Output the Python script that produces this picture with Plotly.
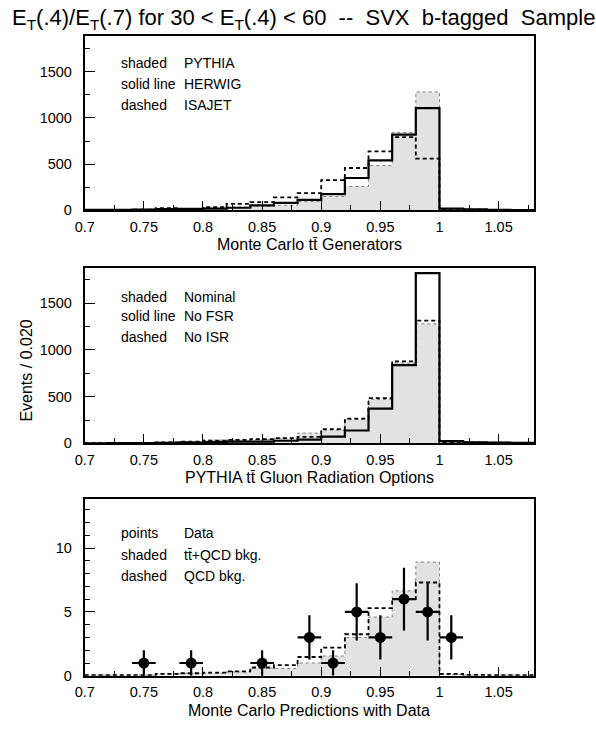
import numpy as np
import plotly.graph_objects as go

# ---- binning (0.02 wide bins) ----
bin_edges = np.round(np.arange(0.70, 1.0801, 0.02), 2)

# ---- panel 1: Monte Carlo ttbar generators ----
pythia = [5, 5, 8, 15, 15, 25, 35, 45, 55, 95, 150, 258, 485, 843, 1281, 12, 8, 6, 3]
herwig = [5, 5, 8, 14, 15, 18, 28, 53, 81, 113, 176, 350, 540, 818, 1105, 18, 10, 6, 3]
isajet = [5, 5, 8, 25, 15, 35, 70, 88, 141, 187, 328, 458, 637, 792, 560, 10, 8, 5, 3]

# ---- panel 2: PYTHIA gluon radiation options ----
nominal = [3, 5, 8, 12, 20, 35, 35, 40, 50, 110, 140, 255, 470, 860, 1280, 15, 10, 8, 5]
no_fsr = [1, 2, 3, 5, 8, 14, 18, 18, 28, 40, 72, 138, 372, 838, 1823, 25, 10, 8, 5]
no_isr = [3, 4, 6, 10, 18, 28, 38, 45, 56, 70, 152, 265, 484, 878, 1314, 15, 10, 8, 5]

# ---- panel 3: predictions with data ----
tt_qcd = [0.05, 0.05, 0.05, 0.15, 0.2, 0.2, 0.3, 0.6, 0.57, 1.0, 1.55, 3.0, 4.6, 6.65, 8.9, 0.1, 0.05, 0.05, 0.05]
qcd_bkg = [0.05, 0.05, 0.05, 0.15, 0.2, 0.25, 0.35, 0.65, 0.83, 1.47, 2.2, 3.25, 5.3, 6.0, 7.3, 0.15, 0.08, 0.05, 0.05]

data_x = [0.75, 0.79, 0.85, 0.89, 0.91, 0.93, 0.95, 0.97, 0.99, 1.01]
data_y = [1, 1, 1, 3, 1, 5, 3, 6, 5, 3]
data_err = [1.0, 1.0, 1.0, 1.73, 1.0, 2.24, 1.73, 2.45, 2.24, 1.73]
data_xerr = 0.01

# ---- axis ticks ----
x_ticks = [0.7, 0.75, 0.8, 0.85, 0.9, 0.95, 1.0, 1.05]
x_tick_labels = ["0.7", "0.75", "0.8", "0.85", "0.9", "0.95", "1", "1.05"]
y_ticks_events = [0, 500, 1000, 1500]
y_tick_labels_events = ["0", "500", "1000", "1500"]
y_ticks_data = [0, 5, 10]
y_tick_labels_data = ["0", "5", "10"]

FONT = "Liberation Sans, Arial, Helvetica, sans-serif"
W, H = 596, 729


def step_xy(values):
    """x/y arrays for an 'hv' step outline of a histogram."""
    return list(bin_edges), list(values) + [values[-1]]


def shaded(values, xa, ya):
    x, y = step_xy(values)
    return go.Scatter(x=x, y=y, xaxis=xa, yaxis=ya, mode="lines",
                      line=dict(shape="hv", color="#808080", width=1, dash="dot"),
                      fill="tozeroy", fillcolor="#e2e2e2", hoverinfo="skip",
                      showlegend=False)


def solid(values, xa, ya):
    x, y = step_xy(values)
    return go.Scatter(x=x, y=y, xaxis=xa, yaxis=ya, mode="lines",
                      line=dict(shape="hv", color="black", width=2.2),
                      showlegend=False)


def dashed(values, xa, ya):
    x, y = step_xy(values)
    return go.Scatter(x=x, y=y, xaxis=xa, yaxis=ya, mode="lines",
                      line=dict(shape="hv", color="black", width=1.8, dash="4px,3px"),
                      showlegend=False)


fig = go.Figure()
fig.add_trace(shaded(pythia, "x", "y"))
fig.add_trace(dashed(isajet, "x", "y"))
fig.add_trace(solid(herwig, "x", "y"))

fig.add_trace(shaded(nominal, "x2", "y2"))
fig.add_trace(dashed(no_isr, "x2", "y2"))
fig.add_trace(solid(no_fsr, "x2", "y2"))

fig.add_trace(shaded(tt_qcd, "x3", "y3"))
fig.add_trace(dashed(qcd_bkg, "x3", "y3"))
fig.add_trace(go.Scatter(
    x=data_x, y=data_y, xaxis="x3", yaxis="y3", mode="markers",
    marker=dict(color="black", size=11),
    error_y=dict(type="data", array=data_err, thickness=2.2, width=0, color="black"),
    error_x=dict(type="constant", value=data_xerr, thickness=2.2, width=0, color="black"),
    showlegend=False))

# frame geometry (pixels)
x_left, x_right = 76, 533
panels_px = [(36, 212.7), (270.7, 448.3), (505, 683.3)]


def ydom(top, bottom):
    return [1 - bottom / H, 1 - top / H]


xdom = [x_left / W, x_right / W]

xaxis_common = dict(
    range=[0.7, 1.08], domain=xdom, showline=True, linecolor="black", linewidth=1.8,
    mirror=True, ticks="inside", ticklen=9, tickwidth=1, tickcolor="black",
    tickmode="array", tickvals=x_ticks, ticktext=x_tick_labels,
    minor=dict(ticks="inside", ticklen=5, tickmode="linear", tick0=0.7, dtick=0.025,
               tickcolor="black", tickwidth=1),
    showgrid=False, zeroline=False, ticklabelstandoff=2,
    tickfont=dict(family=FONT, size=14.5, color="black"), fixedrange=True,
)

yaxis_common = dict(
    showline=True, linecolor="black", linewidth=1.8, mirror=True,
    ticks="inside", ticklen=10, tickwidth=1, tickcolor="black",
    showgrid=False, zeroline=False, ticklabelstandoff=8,
    tickfont=dict(family=FONT, size=14.5, color="black"), fixedrange=True,
)

fig.update_layout(
    width=W, height=H,
    margin=dict(l=0, r=0, t=0, b=0),
    paper_bgcolor="white", plot_bgcolor="white",
    showlegend=False,
    xaxis=dict(xaxis_common, anchor="y"),
    xaxis2=dict(xaxis_common, anchor="y2"),
    xaxis3=dict(xaxis_common, anchor="y3"),
    yaxis=dict(yaxis_common, anchor="x", domain=ydom(*panels_px[0]), range=[0, 1890],
               tickmode="array", tickvals=y_ticks_events, ticktext=y_tick_labels_events,
               minor=dict(ticks="inside", ticklen=5, tickmode="linear", tick0=0, dtick=250,
                          tickcolor="black")),
    yaxis2=dict(yaxis_common, anchor="x2", domain=ydom(*panels_px[1]), range=[0, 1880],
                tickmode="array", tickvals=y_ticks_events, ticktext=y_tick_labels_events,
                minor=dict(ticks="inside", ticklen=5, tickmode="linear", tick0=0, dtick=250,
                           tickcolor="black")),
    yaxis3=dict(yaxis_common, anchor="x3", domain=ydom(*panels_px[2]), range=[0, 13.8],
                tickmode="array", tickvals=y_ticks_data, ticktext=y_tick_labels_data,
                minor=dict(ticks="inside", ticklen=5, tickmode="linear", tick0=0, dtick=1,
                           tickcolor="black")),
)

annotations = []


def text(x_px, y_px, s, size=14, xanchor="left", angle=0):
    annotations.append(dict(
        x=x_px / W, y=1 - y_px / H, xref="paper", yref="paper", text=s,
        showarrow=False, xanchor=xanchor, yanchor="middle", textangle=angle,
        borderpad=0, font=dict(family=FONT, size=size, color="black")))


NB = "\u00a0"
text(W / 2, 19,
     "E<sub>T</sub>(.4)/E<sub>T</sub>(.7) for 30 &lt; E<sub>T</sub>(.4) &lt; 60" + NB * 2 + "--" + NB * 2
     + "SVX" + NB * 2 + "b-tagged" + NB * 2 + "Sample", size=22, xanchor="center")

x_mid = (x_left + x_right) / 2
text(x_mid, panels_px[0][1] + 35, "Monte Carlo tt\u0304 Generators", size=16, xanchor="center")
text(x_mid, panels_px[1][1] + 35, "PYTHIA tt\u0304 Gluon Radiation Options", size=16, xanchor="center")
text(x_mid, panels_px[2][1] + 35, "Monte Carlo Predictions with Data", size=16, xanchor="center")
text(17, 375, "Events / 0.020", size=16, xanchor="center", angle=-90)

col1, col2 = 112, 176
legend_rows = [
    ([64, 85, 106], [("shaded", "PYTHIA"), ("solid line", "HERWIG"), ("dashed", "ISAJET")]),
    ([300, 320, 341], [("shaded", "Nominal"), ("solid line", "No FSR"), ("dashed", "No ISR")]),
    ([539, 561, 582], [("points", "Data"), ("shaded", "tt\u0304+QCD bkg."), ("dashed", "QCD bkg.")]),
]
for ys, rows in legend_rows:
    for yp, (k, v) in zip(ys, rows):
        text(col1, yp, k, size=14)
        text(col2, yp, v, size=14)

fig.update_layout(annotations=annotations)
fig.write_html("out.html")
